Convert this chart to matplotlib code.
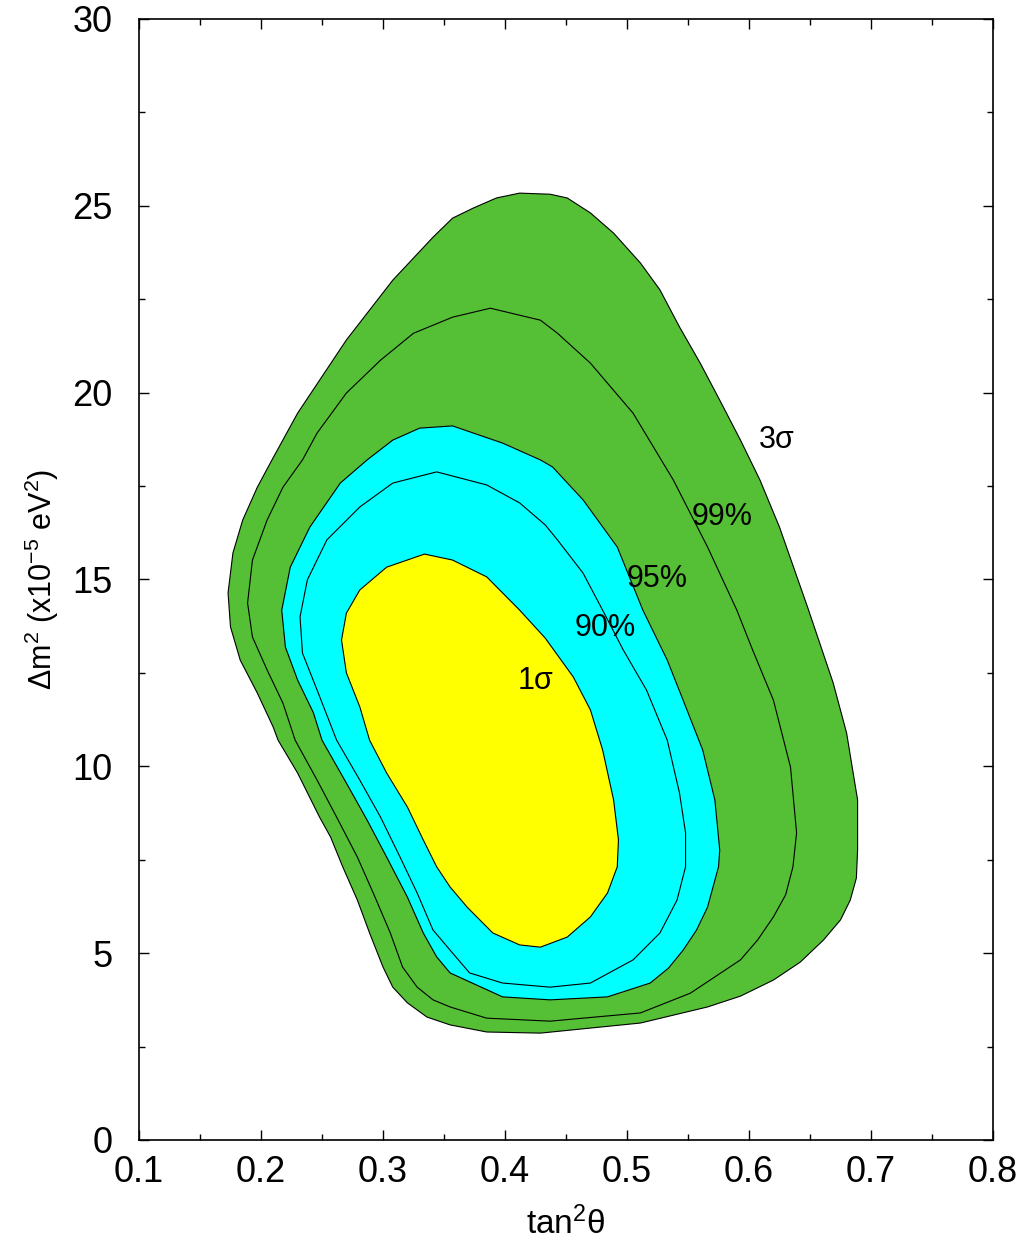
import numpy as np
import matplotlib
matplotlib.use('Agg')
import matplotlib.pyplot as plt
from matplotlib.ticker import MultipleLocator

plt.rcParams['font.family'] = ['Liberation Sans', 'DejaVu Sans']
plt.rcParams['mathtext.fontset'] = 'custom'
plt.rcParams['mathtext.rm'] = 'Liberation Sans'
plt.rcParams['mathtext.it'] = 'Liberation Sans'

# contour points (tan^2 theta, dm^2 in 1e-5 eV^2)
sig3_x = [0.412, 0.437, 0.451, 0.470, 0.489, 0.511, 0.527, 0.543, 0.560, 0.576, 0.593, 0.609,
          0.625, 0.648, 0.669, 0.680, 0.689, 0.689, 0.688, 0.683, 0.675, 0.661, 0.642, 0.620,
          0.593, 0.566, 0.511, 0.429,
          0.385, 0.355, 0.336, 0.320, 0.308, 0.300, 0.289, 0.279, 0.267, 0.257, 0.248, 0.230,
          0.214, 0.210, 0.197, 0.183, 0.175, 0.173, 0.177, 0.185, 0.197, 0.209, 0.230, 0.270,
          0.308, 0.341, 0.357, 0.374, 0.393]
sig3_y = [25.34, 25.31, 25.21, 24.81, 24.27, 23.47, 22.75, 21.76, 20.79, 19.80, 18.73, 17.66,
          16.40, 14.26, 12.23, 10.89, 9.10, 7.76, 7.01, 6.42, 5.89, 5.35, 4.76, 4.28,
          3.85, 3.56, 3.13, 2.86,
          2.89, 3.08, 3.29, 3.67, 4.09, 4.63, 5.54, 6.42, 7.31, 8.11, 8.64, 9.82,
          10.70, 11.05, 11.96, 12.84, 13.73, 14.64, 15.71, 16.59, 17.47, 18.20, 19.45, 21.41,
          23.01, 24.16, 24.67, 24.94, 25.21]

c99_x = [0.388, 0.429, 0.443, 0.470, 0.505, 0.538, 0.566, 0.590, 0.603, 0.620, 0.634, 0.639,
         0.636, 0.630, 0.620, 0.607, 0.593, 0.552, 0.511, 0.437, 0.385, 0.355, 0.341, 0.328,
         0.316, 0.306, 0.292, 0.279, 0.262, 0.246, 0.228, 0.218, 0.205, 0.193, 0.189, 0.193,
         0.205, 0.218, 0.234, 0.246, 0.270, 0.298, 0.325, 0.357]
c99_y = [22.26, 21.94, 21.59, 20.79, 19.45, 17.66, 15.87, 14.18, 13.11, 11.77, 9.98, 8.22,
         7.31, 6.56, 5.97, 5.35, 4.82, 3.93, 3.40, 3.18, 3.26, 3.56, 3.75, 4.09,
         4.63, 5.54, 6.61, 7.57, 8.64, 9.63, 10.70, 11.69, 12.58, 13.46, 14.37, 15.52,
         16.59, 17.47, 18.20, 18.92, 19.99, 20.87, 21.59, 22.02]

c95_x = [0.357, 0.398, 0.429, 0.439, 0.464, 0.492, 0.513, 0.533, 0.546, 0.562, 0.572, 0.576,
         0.575, 0.566, 0.557, 0.546, 0.534, 0.519, 0.484, 0.437, 0.398, 0.355, 0.344, 0.333,
         0.320, 0.303, 0.287, 0.270, 0.250, 0.243, 0.230, 0.220, 0.217, 0.224, 0.240, 0.265,
         0.287, 0.308, 0.330]
c95_y = [19.11, 18.65, 18.20, 18.01, 17.13, 15.87, 14.18, 12.84, 11.77, 10.44, 9.10, 7.76,
         7.31, 6.23, 5.62, 5.08, 4.60, 4.20, 3.83, 3.75, 3.83, 4.47, 4.90, 5.54,
         6.50, 7.57, 8.56, 9.55, 10.70, 11.43, 12.31, 13.19, 14.18, 15.33, 16.40, 17.58,
         18.20, 18.73, 19.05]

c90_x = [0.344, 0.385, 0.412, 0.433, 0.443, 0.464, 0.480, 0.497, 0.516, 0.533, 0.543, 0.548,
         0.548, 0.541, 0.527, 0.505, 0.470, 0.437, 0.398, 0.371, 0.355, 0.341, 0.328, 0.314,
         0.298, 0.281, 0.262, 0.246, 0.234, 0.232, 0.238, 0.254, 0.281, 0.308]
c90_y = [17.88, 17.53, 17.05, 16.46, 16.06, 15.17, 14.18, 13.11, 12.04, 10.70, 9.29, 8.22,
         7.31, 6.42, 5.54, 4.82, 4.20, 4.09, 4.20, 4.47, 5.08, 5.62, 6.61, 7.57,
         8.64, 9.63, 10.70, 12.04, 13.03, 14.00, 14.99, 16.06, 16.94, 17.58]

sig1_x = [0.334, 0.357, 0.385, 0.412, 0.433, 0.456, 0.470, 0.480, 0.489, 0.493, 0.492, 0.484,
          0.470, 0.451, 0.429, 0.412, 0.390, 0.369, 0.355, 0.344, 0.333, 0.320, 0.303, 0.289,
          0.281, 0.270, 0.266, 0.270, 0.281, 0.303]
sig1_y = [15.68, 15.52, 15.07, 14.18, 13.43, 12.39, 11.51, 10.44, 9.10, 8.03, 7.31, 6.61,
          5.97, 5.43, 5.16, 5.22, 5.54, 6.23, 6.77, 7.31, 8.03, 8.91, 9.82, 10.70,
          11.59, 12.50, 13.38, 14.10, 14.72, 15.33]

labels = ['3σ', '99%', '95%', '90%', '1σ']
label_x = [0.623, 0.578, 0.525, 0.482, 0.425]
label_y = [18.73, 16.67, 15.01, 13.70, 12.28]

green = '#55bf35'
cyan = '#00ffff'
yellow = '#ffff00'

fig = plt.figure(figsize=(10.25, 12.41), dpi=100)
ax = fig.add_axes([0.1356, 0.0814, 0.8332, 0.9033])

kw = dict(edgecolor='black', lw=0.8, joinstyle='round')
ax.fill(sig3_x, sig3_y, facecolor=green, **kw)
ax.fill(c99_x, c99_y, facecolor='none', **kw)
ax.fill(c95_x, c95_y, facecolor=cyan, **kw)
ax.fill(c90_x, c90_y, facecolor='none', **kw)
ax.fill(sig1_x, sig1_y, facecolor=yellow, **kw)

for t, x, y in zip(labels, label_x, label_y):
    ax.text(x, y, t, fontsize=22, ha='center', va='center')

ax.set_xlim(0.1, 0.8)
ax.set_ylim(0, 30)
ax.xaxis.set_major_locator(MultipleLocator(0.1))
ax.xaxis.set_minor_locator(MultipleLocator(0.05))
ax.yaxis.set_major_locator(MultipleLocator(5))
ax.yaxis.set_minor_locator(MultipleLocator(2.5))
ax.tick_params(which='both', direction='in', top=True, right=True, labelsize=26, width=1)
ax.tick_params(which='major', length=7)
ax.tick_params(which='minor', length=4)
ax.tick_params(axis='x', which='major', pad=11)
ax.tick_params(axis='y', which='major', pad=19)
for s in ax.spines.values():
    s.set_linewidth(1.2)

ax.set_xlabel('tan$^2$θ', fontsize=24, labelpad=12)
ax.set_ylabel('Δm$^2$ (x10$^{-5}$ eV$^2$)', fontsize=22, labelpad=8)

fig.savefig('out.png', dpi=100)
